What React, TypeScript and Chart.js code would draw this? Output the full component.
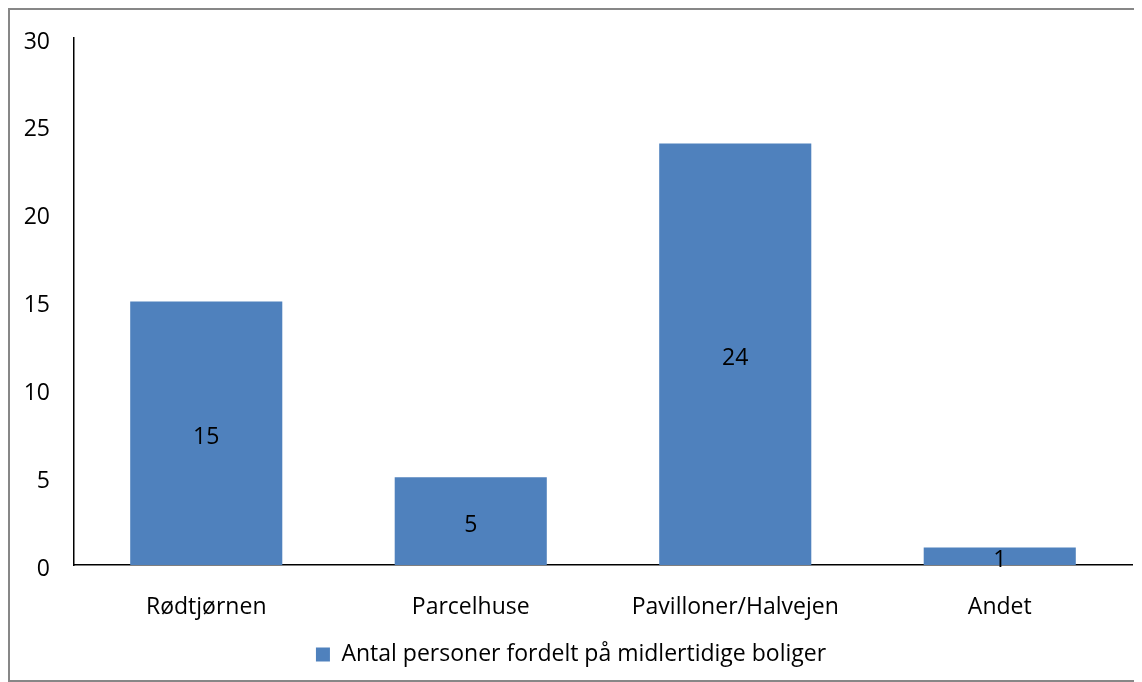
import React, { useEffect, useRef } from "react";
import { Chart, registerables } from "chart.js";

Chart.register(...registerables);

const categories = ["Rødtjørnen", "Parcelhuse", "Pavilloner/Halvejen", "Andet"];
const values = [15, 5, 24, 1];
const seriesLabel = "Antal personer fordelt på midlertidige boliger";
const yMin = 0;
const yMax = 30;
const yStep = 5;

const FONT = "'Open Sans', 'Noto Sans', sans-serif";
const FONT_SIZE = 23;
const BAR_COLOR = "#4F81BD";

const barLabels = {
  id: "barLabels",
  afterDatasetsDraw(chart: any) {
    const ctx = chart.ctx;
    const meta = chart.getDatasetMeta(0);
    ctx.save();
    ctx.font = `${FONT_SIZE}px ${FONT}`;
    ctx.fillStyle = "#000";
    ctx.textAlign = "center";
    ctx.textBaseline = "middle";
    meta.data.forEach((el: any, i: number) => {
      const { x, y, base } = el.getProps(["x", "y", "base"], true);
      ctx.fillText(String(values[i]), x, (y + base) / 2 + 4);
    });
    ctx.restore();
  },
};

export default function App() {
  const ref = useRef<HTMLCanvasElement | null>(null);
  useEffect(() => {
    if (!ref.current) return;
    const chart = new Chart(ref.current, {
      type: "bar",
      data: {
        labels: categories,
        datasets: [
          {
            label: seriesLabel,
            data: values,
            backgroundColor: BAR_COLOR,
            borderWidth: 0,
            categoryPercentage: 1,
            barPercentage: 0.575,
          },
        ],
      },
      options: {
        animation: false,
        responsive: false,
        maintainAspectRatio: false,
        layout: { padding: { top: 28, left: 0, right: 10, bottom: 4 } },
        plugins: {
          tooltip: { enabled: false },
          legend: {
            position: "bottom",
            labels: {
              boxWidth: 14,
              boxHeight: 14,
              color: "#000",
              padding: 10,
              font: { family: FONT, size: FONT_SIZE },
            },
          },
        },
        scales: {
          x: {
            grid: { display: false, drawTicks: false },
            border: { display: true, color: "#000", width: 1.5 },
            ticks: { color: "#000", padding: 29, font: { family: FONT, size: FONT_SIZE } },
            afterFit(scale: any) {
              scale.height = 68;
            },
          },
          y: {
            min: yMin,
            max: yMax,
            grid: { display: false, drawTicks: false },
            border: { display: true, color: "#000", width: 1.5 },
            ticks: {
              stepSize: yStep,
              color: "#000",
              padding: 24,
              labelOffset: 4,
              font: { family: FONT, size: FONT_SIZE },
            },
            afterFit(scale: any) {
              scale.width = 64;
              scale.paddingTop = 0;
              scale.paddingBottom = 0;
            },
          },
        },
      },
      plugins: [barLabels],
    });
    return () => chart.destroy();
  }, []);
  return (
    <div
      style={{
        width: 1132,
        height: 670,
        border: "2px solid #878787",
        background: "#fff",
      }}
    >
      <canvas ref={ref} width={1132} height={670} style={{ display: "block" }} />
    </div>
  );
}
